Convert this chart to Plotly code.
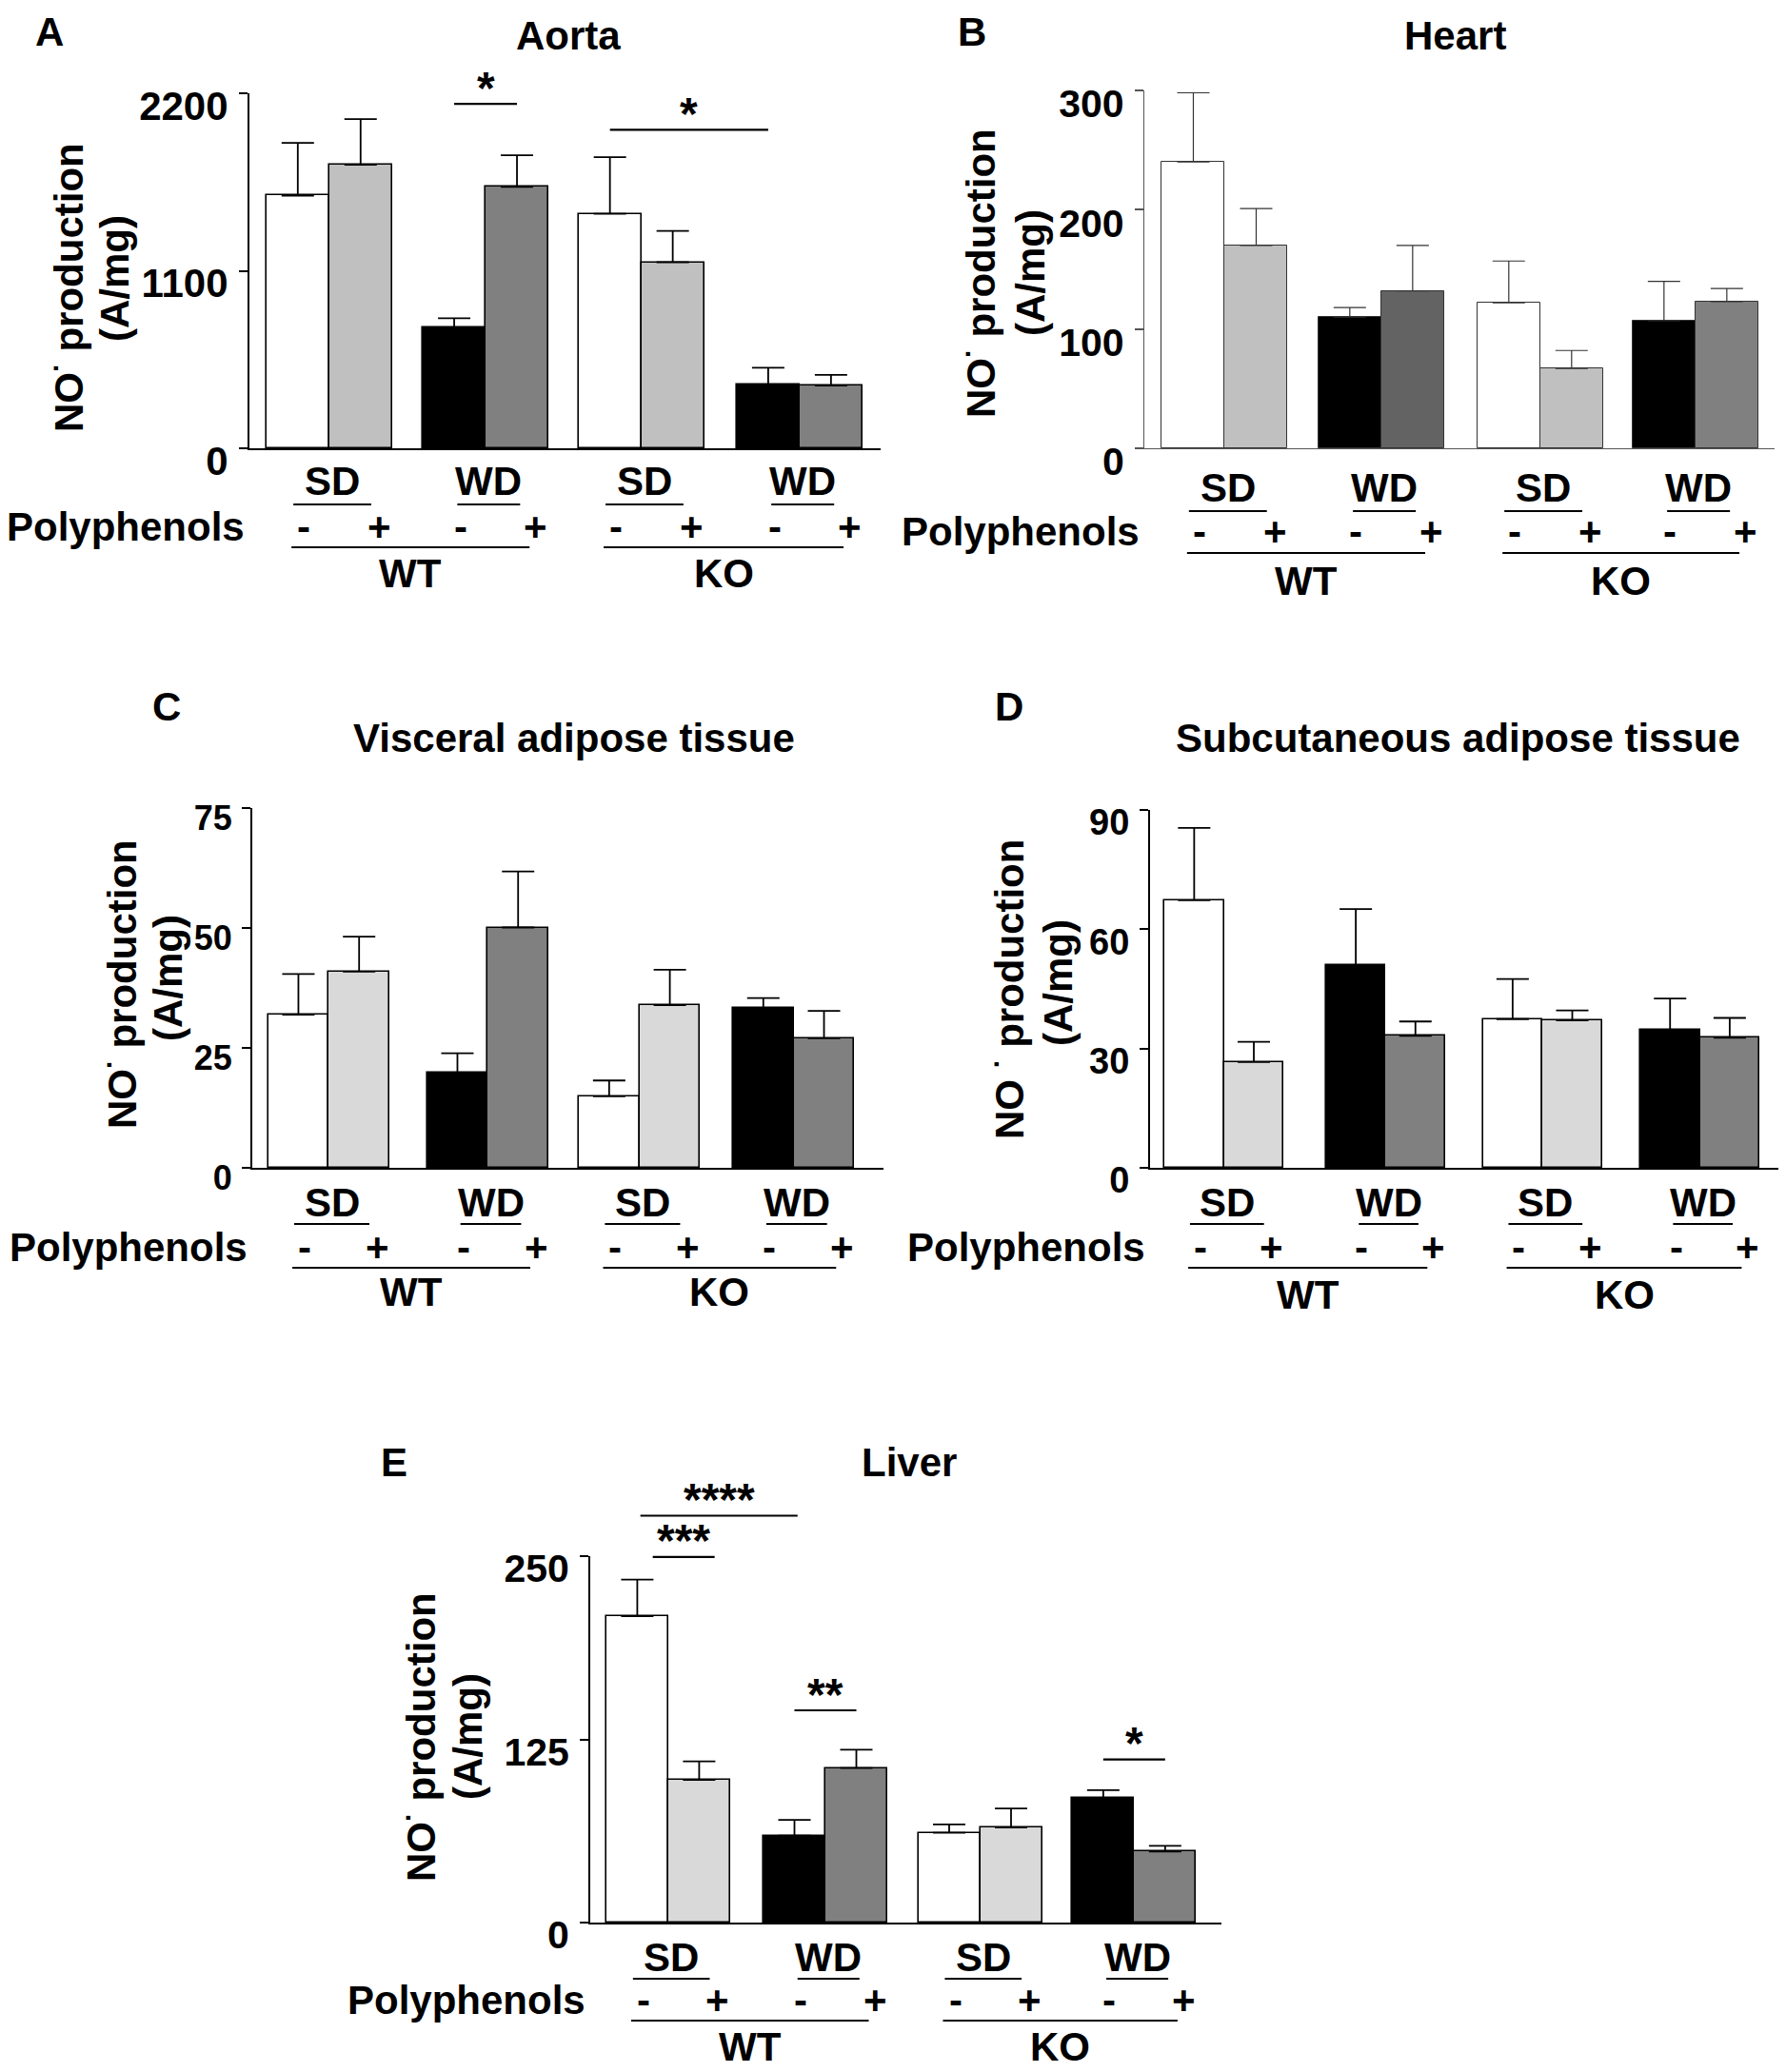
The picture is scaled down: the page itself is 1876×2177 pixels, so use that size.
import plotly.graph_objects as go

W, H = 1876, 2177
OFF = 8  # page margin of the html body
FONT = "Liberation Sans"

# Bar order: WT SD -, WT SD +, WT WD -, WT WD +, KO SD -, KO SD +, KO WD -, KO WD +
aorta_mean = [1566, 1757, 747, 1620, 1453, 1153, 393, 388]
aorta_sem = [327, 283, 59, 196, 351, 194, 106, 67]
heart_mean = [240, 170, 110, 132, 122, 67, 107, 123]
heart_sem = [58, 31, 8, 38, 35, 15, 33, 11]
visceral_mean = [31.9, 40.9, 19.8, 50.1, 14.9, 33.9, 33.3, 27.0]
visceral_sem = [8.5, 7.3, 4.1, 11.7, 3.3, 7.4, 2.1, 5.7]
subcut_mean = [67.3, 26.6, 51.0, 33.2, 37.4, 37.1, 34.7, 32.7]
subcut_sem = [18.2, 5.1, 14.1, 3.6, 10.1, 2.5, 7.9, 5.0]
liver_mean = [209, 97.4, 59.3, 105.5, 61.3, 64.8, 84.9, 48.5]
liver_sem = [25, 12.6, 10.7, 12.5, 5.6, 13.1, 5.5, 3.8]

diets = ["SD", "WD", "SD", "WD"]
genotypes = ["WT", "KO"]
polyphenols = ["-", "+"]

aorta_ticks = [0, 1100, 2200]
heart_ticks = [0, 100, 200, 300]
visceral_ticks = [0, 25, 50, 75]
subcut_ticks = [0, 30, 60, 90]
liver_ticks = [0, 125, 250]

# significance brackets: (first bar, second bar, level, label, shift in bar widths)
aorta_sig = [(2, 3, 2134, "*", 0), (4, 6, 1974, "*", 0)]
liver_sig = [(0, 2, 277.6, "****", 0.05), (0, 1, 249.4, "***", 0.25),
             (2, 3, 144.8, "**", 0), (6, 7, 111.3, "*", 0)]

std_colors = ["white", "#d9d9d9", "black", "#808080"] * 2
aorta_colors = ["white", "#c0c0c0", "black", "#808080"] * 2
heart_colors = ["white", "#c0c0c0", "black", "#636363",
                "white", "#c0c0c0", "black", "#808080"]

ytitle_1 = "NO<sup>·</sup> production"
ytitle_2 = "(A/mg)"

panels = [
    dict(letter="A", title="Aorta", mean=aorta_mean, sem=aorta_sem, ticks=aorta_ticks,
         sig=aorta_sig, colors=aorta_colors, box=(262, 925, 98, 471),
         pairs=[0.77, 3.26, 5.74, 8.26], xmax=10.05, letter_x=52,
         title_xy=(597, 38), ytitle_pos=((69, 302), (120, 293)), tick_size=42, tick_shift=13,
         offs=(35, 59, 82, 104, 131), thin=False, ytext=ytitle_1),
    dict(letter="B", title="Heart", mean=heart_mean, sem=heart_sem, ticks=heart_ticks,
         sig=[], colors=heart_colors, box=(1202, 1864, 95, 471),
         pairs=[0.78, 3.27, 5.8, 8.27], xmax=10.03, letter_x=1021,
         title_xy=(1528, 37), ytitle_pos=((1027, 287), (1082, 287)), tick_size=41,
         tick_shift=14, offs=(41, 66, 87, 110, 139), thin=True, ytext=ytitle_1),
    dict(letter="C", title="Visceral adipose tissue", mean=visceral_mean, sem=visceral_sem,
         ticks=visceral_ticks, sig=[], colors=std_colors, box=(265, 928, 849, 1227),
         pairs=[0.76, 3.38, 5.88, 8.42], xmax=10.4, letter_xy=(175, 743),
         title_xy=(603, 776), ytitle_pos=((125, 1034), (176, 1028)), tick_size=36,
         tick_shift=10, offs=(36, 59, 83, 105, 130), thin=False, ytext=ytitle_1),
    dict(letter="D", title="Subcutaneous adipose tissue", mean=subcut_mean, sem=subcut_sem,
         ticks=subcut_ticks, sig=[], colors=std_colors, box=(1208, 1872, 851, 1227),
         pairs=[0.74, 3.45, 6.08, 8.72], xmax=10.6, letter_xy=(1060, 743),
         title_xy=(1531, 776), ytitle_pos=((1057, 1040), (1111, 1033)), tick_size=38,
         tick_shift=13, offs=(36, 59, 83, 105, 133), thin=False,
         ytext="NO <sup>·</sup> production"),
    dict(letter="E", title="Liver", mean=liver_mean, sem=liver_sem, ticks=liver_ticks,
         sig=liver_sig, colors=std_colors, box=(620, 1283, 1635, 2020),
         pairs=[0.76, 3.30, 5.80, 8.29], xmax=10.2, letter_xy=(414, 1536),
         title_xy=(955, 1536), ytitle_pos=((439, 1825), (491, 1825)), tick_size=41,
         tick_shift=13, offs=(36, 59, 81, 103, 130), thin=False, ytext=ytitle_1),
]


def fx(x):
    return (x - OFF) / W


def fy(y):
    return 1 - (y - OFF) / H


def bold(size):
    return dict(family=FONT, size=size, color="black", weight="bold")


def label(text, x, y, xref="paper", yref="paper", size=42, **kw):
    d = dict(text=text, x=x, y=y, xref=xref, yref=yref, showarrow=False,
             xanchor="center", yanchor="middle", font=bold(size))
    d.update(kw)
    return d


fig = go.Figure()
annotations = []
shapes = []
layout = {}

for n, p in enumerate(panels, start=1):
    xa = "x" if n == 1 else f"x{n}"
    ya = "y" if n == 1 else f"y{n}"
    x0, x1, ytop, ybot = p["box"]
    xpos = []
    for c in p["pairs"]:
        xpos += [c, c + 1]

    line_w = 1 if p["thin"] else 1.6
    edge = "#333333" if p["thin"] else "black"
    axis_col = "#555555" if p["thin"] else "black"
    fig.add_trace(go.Bar(
        x=xpos, y=p["mean"], width=1.0, xaxis=xa, yaxis=ya,
        marker=dict(color=p["colors"], line=dict(color=edge, width=line_w)),
        error_y=dict(type="data", array=p["sem"], arrayminus=[0] * len(p["sem"]),
                     symmetric=False, width=17, thickness=line_w + 0.2, color=edge),
        showlegend=False,
    ))

    layout["xaxis" if n == 1 else f"xaxis{n}"] = dict(
        domain=[fx(x0), fx(x1)], anchor=ya, range=[0, p["xmax"]],
        showticklabels=False, ticks="", showgrid=False, zeroline=False,
        showline=True, linecolor=axis_col, linewidth=1.2 if p["thin"] else 2,
        fixedrange=True, automargin=False)
    layout["yaxis" if n == 1 else f"yaxis{n}"] = dict(
        domain=[fy(ybot), fy(ytop)], anchor=xa,
        range=[0, p["ticks"][-1]], tickvals=p["ticks"],
        ticks="outside", ticklen=9, tickwidth=1.5, tickcolor=axis_col,
        tickfont=bold(p["tick_size"]), showgrid=False, zeroline=False,
        showline=True, linecolor=axis_col, linewidth=1.2 if p["thin"] else 2,
        ticklabelshift=p["tick_shift"], ticklabelstandoff=3, automargin=False)

    # panel letter (top row hugs the page top), title, y title (two rotated lines)
    if "letter_x" in p:
        annotations.append(label(p["letter"], fx(p["letter_x"]), 1, size=42, yanchor="top"))
    else:
        annotations.append(label(p["letter"], fx(p["letter_xy"][0]), fy(p["letter_xy"][1]),
                                 size=42))
    annotations.append(label(p["title"], fx(p["title_xy"][0]), fy(p["title_xy"][1])))
    for text, (tx, ty) in zip([p["ytext"], ytitle_2], p["ytitle_pos"]):
        annotations.append(label(text, fx(tx), fy(ty), textangle=-90))

    # group labels under the axis
    yd, yu, yp, yg, yG = (fy(ybot + o) for o in p["offs"])
    annotations.append(label("Polyphenols", fx(x0 - 3), yp, xanchor="right"))
    for k, c in enumerate(p["pairs"]):
        mid = c + 0.55
        annotations.append(label(diets[k], mid, yd, xref=xa))
        half = 0.62 if diets[k] == "SD" else 0.5
        shapes.append(dict(type="line", xref=xa, yref="paper", x0=mid - half, x1=mid + half,
                           y0=yu, y1=yu, line=dict(color="black", width=2.2)))
        annotations.append(label(polyphenols[0], c + 0.1, yp, xref=xa))
        annotations.append(label(polyphenols[1], c + 1.3, yp, xref=xa))
    for g, name in enumerate(genotypes):
        a = p["pairs"][2 * g] - 0.1
        b = p["pairs"][2 * g + 1] + 1.2
        shapes.append(dict(type="line", xref=xa, yref="paper", x0=a, x1=b,
                           y0=yg, y1=yg, line=dict(color="black", width=2.2)))
        annotations.append(label(name, (a + b) / 2, yG, xref=xa))

    # significance brackets (in paper units so they may rise above the axis)
    ymax = p["ticks"][-1]
    for i, j, level, stars, dx in p["sig"]:
        xi = x0 + (xpos[i] + dx) / p["xmax"] * (x1 - x0)
        xj = x0 + (xpos[j] + dx) / p["xmax"] * (x1 - x0)
        yl = ybot - level / ymax * (ybot - ytop)
        shapes.append(dict(type="line", xref="paper", yref="paper", x0=fx(xi), x1=fx(xj),
                           y0=fy(yl), y1=fy(yl), line=dict(color="black", width=2.2)))
        annotations.append(label(stars, fx((xi + xj) / 2), fy(yl), size=48, yshift=17))

fig.update_layout(
    template="none",
    width=W, height=H, margin=dict(l=0, r=0, t=0, b=0, autoexpand=False),
    paper_bgcolor="white", plot_bgcolor="white",
    annotations=annotations, shapes=shapes, bargap=0,
    **layout,
)

fig.write_html("out.html")
